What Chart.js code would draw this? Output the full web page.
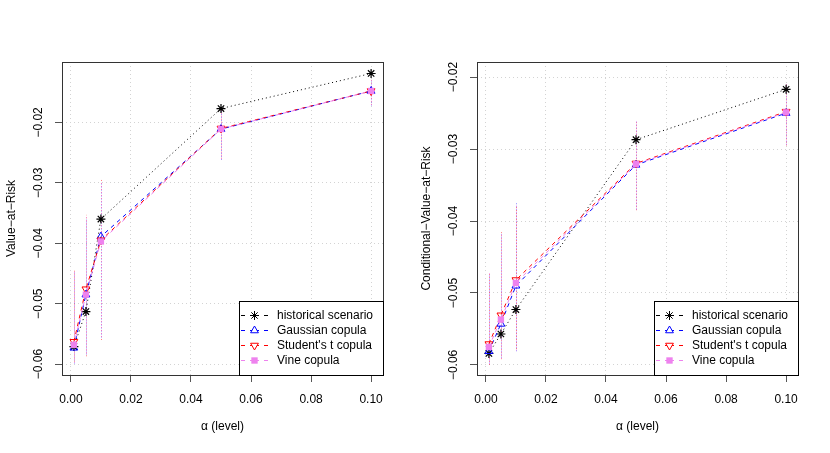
<!DOCTYPE html>
<html>
<head>
<meta charset="utf-8">
<script src="https://cdn.jsdelivr.net/npm/chart.js@4/dist/chart.umd.min.js"></script>
<style>
html, body { margin: 0; padding: 0; background: #fff; }
#wrap { position: relative; width: 830px; height: 453px; }
canvas { position: absolute; top: 0; }
#varChart { left: 0; }
#cvarChart { left: 415px; }
</style>
</head>
<body>
<div id="wrap">
    <canvas id="varChart" width="415" height="453"></canvas>
    <canvas id="cvarChart" width="415" height="453"></canvas>
</div>
<script>
// alpha levels and axis ticks
const alphaLevels = [0.001, 0.005, 0.01, 0.05, 0.10];
const xTicks = [0, 0.02, 0.04, 0.06, 0.08, 0.10];
const yTicks = [-0.06, -0.05, -0.04, -0.03, -0.02];
const seriesNames = ['historical scenario', 'Gaussian copula', "Student's t copula", 'Vine copula'];

// Value-at-Risk
const varHist    = [-0.0571, -0.0513, -0.0360, -0.0177, -0.0119];
const varGauss   = [-0.0573, -0.0485, -0.0389, -0.0211, -0.0148];
const varStudent = [-0.0563, -0.0476, -0.0395, -0.0210, -0.0148];
const varVine    = [-0.0568, -0.0485, -0.0397, -0.0211, -0.0148];
const varGaussLo   = [-0.0599, -0.0584, -0.0556, -0.0262, -0.0172];
const varGaussHi   = [-0.0448, -0.0360, -0.0300, -0.0180, -0.0131];
const varStudentLo = [-0.0596, -0.0587, -0.0560, -0.0260, -0.0171];
const varStudentHi = [-0.0444, -0.0353, -0.0295, -0.0178, -0.0129];
const varVineLo    = [-0.0598, -0.0582, -0.0555, -0.0261, -0.0171];
const varVineHi    = [-0.0446, -0.0357, -0.0298, -0.0179, -0.0130];

// Conditional-Value-at-Risk
const cvarHist    = [-0.0584, -0.0557, -0.0523, -0.0287, -0.0217];
const cvarGauss   = [-0.0581, -0.0543, -0.0490, -0.0322, -0.0250];
const cvarStudent = [-0.0571, -0.0531, -0.0482, -0.0320, -0.0248];
const cvarVine    = [-0.0575, -0.0537, -0.0486, -0.0321, -0.0249];
const cvarGaussLo   = [-0.0598, -0.0590, -0.0581, -0.0384, -0.0294];
const cvarGaussHi   = [-0.0474, -0.0418, -0.0374, -0.0262, -0.0210];
const cvarStudentLo = [-0.0600, -0.0592, -0.0578, -0.0385, -0.0295];
const cvarStudentHi = [-0.0471, -0.0415, -0.0378, -0.0260, -0.0209];
const cvarVineLo    = [-0.0599, -0.0591, -0.0580, -0.0384, -0.0294];
const cvarVineHi    = [-0.0472, -0.0416, -0.0376, -0.0261, -0.0210];

const FONT = "'Liberation Sans', Arial, Helvetica, sans-serif";
const VIOLET = '#ee82ee';

function toPoints(values) {
    return alphaLevels.map((a, i) => ({ x: a, y: values[i] }));
}

function fmt(v) {
    return v.toFixed(2).replace('-', '\u2212');
}

// box, error bars and legend drawn the way R does
const rStylePlugin = {
    id: 'rStyle',
    beforeDatasetsDraw(chart, args, opts) {
        const ctx = chart.ctx;
        const xs = chart.scales.x, ys = chart.scales.y;
        ctx.save();
        ctx.lineWidth = 1;
        ctx.setLineDash([1, 2]);
        opts.bars.forEach(bar => {
            ctx.strokeStyle = bar.color;
            alphaLevels.forEach((a, i) => {
                const px = Math.round(xs.getPixelForValue(a)) + 0.5;
                ctx.beginPath();
                ctx.moveTo(px, ys.getPixelForValue(bar.lo[i]));
                ctx.lineTo(px, ys.getPixelForValue(bar.hi[i]));
                ctx.stroke();
            });
        });
        ctx.restore();
    },
    afterDatasetsDraw(chart) {
        const ctx = chart.ctx;
        const area = chart.chartArea;
        ctx.save();
        ctx.strokeStyle = '#333';
        ctx.lineWidth = 1;
        ctx.setLineDash([]);
        ctx.strokeRect(area.left + 0.5, area.top + 0.5, area.right - area.left, area.bottom - area.top);

        // legend
        const boxW = 144, boxH = 74;
        const bx = area.right - boxW, by = area.bottom - boxH;
        ctx.fillStyle = '#fff';
        ctx.fillRect(bx, by, boxW, boxH);
        ctx.strokeStyle = '#000';
        ctx.strokeRect(bx + 0.5, by + 0.5, boxW, boxH);

        chart.data.datasets.forEach((ds, i) => {
            const cy = by + 14.5 + i * 15;
            ctx.strokeStyle = ds.borderColor;
            ctx.lineWidth = 1;
            ctx.setLineDash([]);
            [[bx + 2, bx + 6], [bx + 11, bx + 13], [bx + 18, bx + 20], [bx + 25, bx + 29]].forEach(seg => {
                ctx.beginPath();
                ctx.moveTo(seg[0], cy);
                ctx.lineTo(seg[1], cy);
                ctx.stroke();
            });
            ctx.fillStyle = ds.pointBackgroundColor;
            ctx.strokeStyle = ds.pointBorderColor;
            Chart.helpers.drawPoint(ctx, {
                pointStyle: ds.pointStyle,
                rotation: ds.pointRotation || 0,
                radius: ds.pointRadius,
                borderWidth: ds.pointBorderWidth
            }, bx + 15.5, cy);
            ctx.fillStyle = '#000';
            ctx.font = '12px ' + FONT;
            ctx.textAlign = 'left';
            ctx.textBaseline = 'middle';
            ctx.fillText(ds.label, bx + 38, cy);
        });
        ctx.restore();
    }
};

function buildChart(canvasId, yTitle, yMin, yMax, hist, gauss, student, vine, bars) {
    const ctx = document.getElementById(canvasId).getContext('2d');
    return new Chart(ctx, {
        type: 'scatter',
        data: {
            datasets: [
                {
                    label: seriesNames[0],
                    data: toPoints(hist),
                    showLine: true,
                    borderColor: '#000',
                    borderWidth: 1,
                    borderDash: [1, 3],
                    pointStyle: 'star',
                    pointRadius: 4.5,
                    pointBorderWidth: 1.2,
                    pointBorderColor: '#000',
                    pointBackgroundColor: 'rgba(0,0,0,0)',
                    order: 4
                },
                {
                    label: seriesNames[1],
                    data: toPoints(gauss),
                    showLine: true,
                    borderColor: '#0000ff',
                    borderWidth: 1,
                    borderDash: [4, 4],
                    pointStyle: 'triangle',
                    pointRadius: 4.5,
                    pointBorderWidth: 1,
                    pointBorderColor: '#0000ff',
                    pointBackgroundColor: 'rgba(0,0,0,0)',
                    order: 3
                },
                {
                    label: seriesNames[2],
                    data: toPoints(student),
                    showLine: true,
                    borderColor: '#ff0000',
                    borderWidth: 1,
                    borderDash: [4, 4],
                    pointStyle: 'triangle',
                    pointRotation: 180,
                    pointRadius: 4.5,
                    pointBorderWidth: 1,
                    pointBorderColor: '#ff0000',
                    pointBackgroundColor: 'rgba(0,0,0,0)',
                    order: 2
                },
                {
                    label: seriesNames[3],
                    data: toPoints(vine),
                    showLine: true,
                    borderColor: VIOLET,
                    borderWidth: 1,
                    borderDash: [4, 4],
                    pointStyle: 'rect',
                    pointRadius: 4.5,
                    pointBorderWidth: 0,
                    pointBorderColor: VIOLET,
                    pointBackgroundColor: VIOLET,
                    order: 1
                }
            ]
        },
        options: {
            responsive: false,
            animation: false,
            devicePixelRatio: 1,
            layout: { padding: { top: 62, right: 32, left: 0, bottom: 0 } },
            plugins: {
                legend: { display: false },
                tooltip: { enabled: false },
                rStyle: { bars: bars }
            },
            elements: { line: { tension: 0 } },
            scales: {
                x: {
                    type: 'linear',
                    min: -0.00296,
                    max: 0.10396,
                    afterBuildTicks: s => { s.ticks = xTicks.map(v => ({ value: v })); },
                    afterFit: s => { s.height = 78; },
                    border: { display: false, dash: [1, 3] },
                    grid: {
                        color: '#d3d3d3',
                        tickColor: '#555',
                        tickLength: 7,
                        tickBorderDash: [],
                        lineWidth: 1
                    },
                    ticks: {
                        color: '#000',
                        font: { family: FONT, size: 12 },
                        padding: 10,
                        maxRotation: 0,
                        callback: v => fmt(v)
                    },
                    title: {
                        display: true,
                        text: '\u03b1 (level)',
                        color: '#000',
                        font: { family: FONT, size: 12 },
                        padding: { top: 0, bottom: 19 }
                    }
                },
                y: {
                    type: 'linear',
                    min: yMin,
                    max: yMax,
                    afterBuildTicks: s => { s.ticks = yTicks.map(v => ({ value: v })); },
                    afterFit: s => { s.width = 62; },
                    border: { display: false, dash: [1, 3] },
                    grid: {
                        color: '#d3d3d3',
                        tickColor: '#555',
                        tickLength: 7,
                        tickBorderDash: [],
                        lineWidth: 1
                    },
                    ticks: {
                        color: '#000',
                        font: { family: FONT, size: 12 },
                        padding: 1,
                        minRotation: 90,
                        maxRotation: 90,
                        crossAlign: 'center',
                        callback: v => fmt(v)
                    },
                    title: {
                        display: true,
                        text: yTitle,
                        color: '#000',
                        font: { family: FONT, size: 12 },
                        padding: { top: 4, bottom: 0 }
                    }
                }
            }
        },
        plugins: [rStylePlugin]
    });
}

buildChart('varChart', 'Value\u2212at\u2212Risk', -0.0618, -0.0100,
    varHist, varGauss, varStudent, varVine, [
        { color: 'rgba(0,0,255,0.45)', lo: varGaussLo, hi: varGaussHi },
        { color: 'rgba(255,0,0,0.5)', lo: varStudentLo, hi: varStudentHi },
        { color: 'rgba(238,130,238,0.7)', lo: varVineLo, hi: varVineHi }
    ]);

buildChart('cvarChart', 'Conditional\u2212Value\u2212at\u2212Risk', -0.0614, -0.0179,
    cvarHist, cvarGauss, cvarStudent, cvarVine, [
        { color: 'rgba(0,0,255,0.45)', lo: cvarGaussLo, hi: cvarGaussHi },
        { color: 'rgba(255,0,0,0.5)', lo: cvarStudentLo, hi: cvarStudentHi },
        { color: 'rgba(238,130,238,0.7)', lo: cvarVineLo, hi: cvarVineHi }
    ]);
</script>
</body>
</html>
